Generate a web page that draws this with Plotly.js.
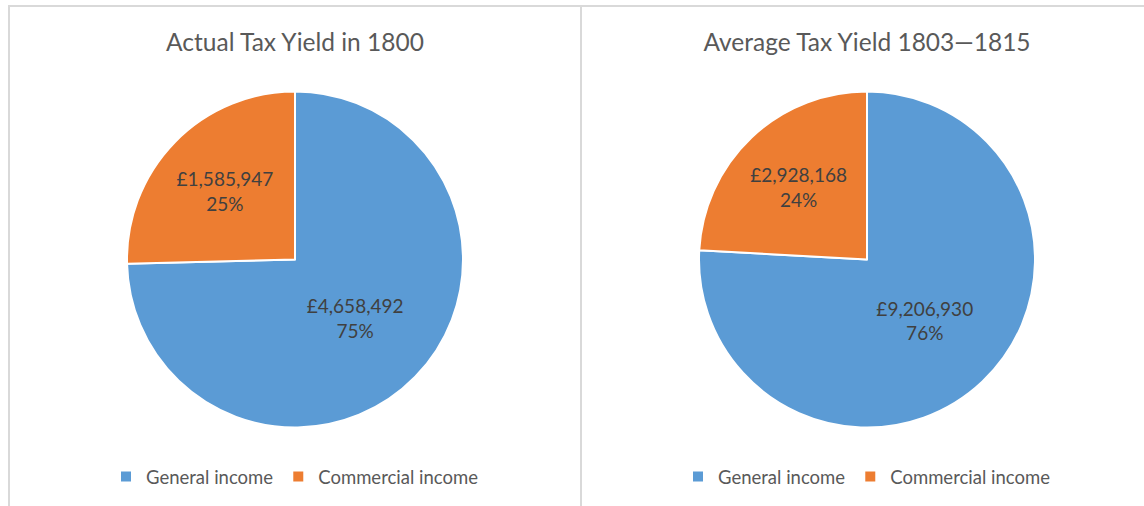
<!DOCTYPE html>
<html>
<head>
<meta charset="utf-8">
<script src="https://cdn.plot.ly/plotly-3.0.1.min.js"></script>
<style>
  html, body { margin: 0; padding: 0; background: #fff; overflow: hidden; width: 1144px; height: 506px; }
  .panel { position: absolute; top: 5px; box-sizing: border-box; border-top: 2px solid #d9d9d9; background: #fff; }
  #p1 { left: 8px; width: 574px; height: 510px; border-left: 2px solid #d9d9d9; border-right: 2px solid #d9d9d9; }
  #p2 { left: 582px; width: 580px; height: 510px; }
  .chart { width: 570px; height: 499px; }
</style>
</head>
<body>
<div id="p1" class="panel"><div id="c1" class="chart"></div></div>
<div id="p2" class="panel"><div id="c2" class="chart"></div></div>
<script>
const categories = ["General income", "Commercial income"];
const titles = ["Actual Tax Yield in 1800", "Average Tax Yield 1803\u20141815"];
const values1800 = [4658492, 1585947];
const valuesAvg = [9206930, 2928168];
const colors = ["#5B9BD5", "#ED7D31"];

const FONT = "Lato, 'Open Sans', sans-serif";
const W = 570, H = 499;
const cy = 252.5, R = 168, cx = 285;

function makeChart(div, title, values) {
  const trace = {
    type: "pie",
    labels: categories,
    values: values,
    sort: false,
    direction: "clockwise",
    rotation: 0,
    marker: { colors: colors, line: { color: "#ffffff", width: 2 } },
    texttemplate: "\u00a3%{value:,}<br>%{percent:.0%}",
    textposition: "inside",
    insidetextorientation: "horizontal",
    textfont: { family: FONT, size: 19, color: "#404040" },
    hoverinfo: "label+value+percent",
    domain: {
      x: [(cx - R) / W, (cx + R) / W],
      y: [(H - cy - R) / H, (H - cy + R) / H]
    }
  };
  const layout = {
    width: W, height: H,
    margin: { l: 0, r: 0, t: 0, b: 0 },
    paper_bgcolor: "#ffffff",
    font: { family: FONT, color: "#595959" },
    title: { text: title, x: 0.5, xanchor: "center", y: 1 - 35 / H, yanchor: "middle", yref: "paper",
             font: { family: FONT, size: 24.5, color: "#595959" } },
    showlegend: true,
    legend: { orientation: "h", x: 0.5, xanchor: "center", y: 29 / H, yanchor: "middle",
              font: { family: FONT, size: 18.5, color: "#595959" }, traceorder: "normal" }
  };
  Plotly.newPlot(div, [trace], layout, { displayModeBar: false, staticPlot: true });
}
makeChart("c1", titles[0], values1800);
makeChart("c2", titles[1], valuesAvg);
</script>
</body>
</html>
